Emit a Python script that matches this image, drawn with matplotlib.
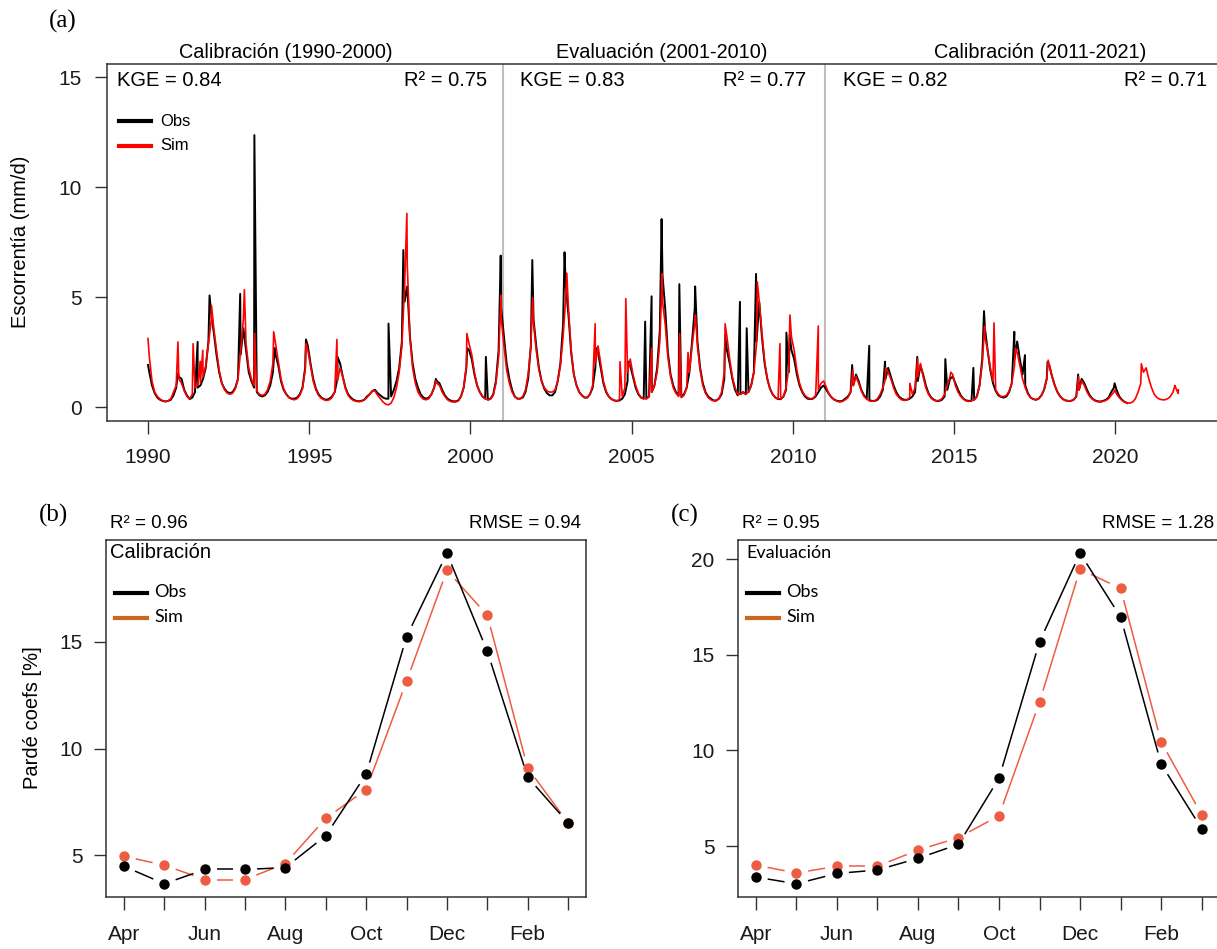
import numpy as np
import matplotlib
matplotlib.use("Agg")
import matplotlib.pyplot as plt
from matplotlib.lines import Line2D

# ---------------------------------------------------------------- data
# (a) daily runoff, read as monthly values (Jan..Dec) plus visible peaks
obs_monthly = [
    1.6, 1.0, 0.65, 0.45, 0.35, 0.3, 0.27, 0.3, 0.35, 0.55, 0.9, 1.4,    # 1990
    1.3, 0.8, 0.55, 0.38, 0.45, 0.7, 0.9, 1.0, 1.3, 1.8, 3.0, 4.3,       # 1991
    3.4, 2.4, 1.6, 1.1, 0.85, 0.7, 0.65, 0.7, 0.9, 1.3, 2.4, 3.6,        # 1992
    2.6, 1.6, 1.2, 0.9, 0.7, 0.55, 0.5, 0.55, 0.7, 1.0, 1.6, 2.4,        # 1993
    1.9, 1.2, 0.8, 0.6, 0.45, 0.4, 0.4, 0.45, 0.6, 0.9, 1.8, 2.8,        # 1994
    2.0, 1.3, 0.85, 0.6, 0.45, 0.38, 0.35, 0.4, 0.5, 0.7, 1.3, 2.0,      # 1995
    1.4, 0.9, 0.6, 0.45, 0.35, 0.3, 0.28, 0.3, 0.35, 0.5, 0.6, 0.75,     # 1996
    0.8, 0.65, 0.55, 0.45, 0.4, 0.4, 0.5, 0.8, 1.2, 1.8, 3.0, 4.8,       # 1997
    5.5, 3.2, 2.0, 1.3, 0.9, 0.6, 0.45, 0.4, 0.45, 0.6, 0.9, 1.2,        # 1998
    1.1, 0.8, 0.55, 0.4, 0.32, 0.28, 0.28, 0.32, 0.5, 0.9, 1.8, 2.6,     # 1999
    2.2, 1.5, 1.0, 0.7, 0.5, 0.4, 0.35, 0.4, 0.6, 1.2, 2.6, 4.5,         # 2000
    3.2, 2.0, 1.3, 0.8, 0.5, 0.4, 0.4, 0.45, 0.7, 1.3, 2.8, 4.0,         # 2001
    2.8, 1.8, 1.2, 0.85, 0.65, 0.55, 0.55, 0.7, 1.2, 2.0, 3.8, 5.5,      # 2002
    4.2, 2.5, 1.5, 1.0, 0.7, 0.55, 0.45, 0.45, 0.6, 0.9, 1.8, 2.5,       # 2003
    1.8, 1.1, 0.7, 0.5, 0.38, 0.32, 0.3, 0.32, 0.4, 0.6, 1.2, 1.9,       # 2004
    1.4, 0.9, 0.6, 0.45, 0.4, 0.4, 0.5, 0.7, 1.0, 1.8, 3.5, 6.0,         # 2005
    4.5, 2.5, 1.5, 1.0, 0.7, 0.55, 0.5, 0.6, 0.9, 1.6, 3.0, 4.5,         # 2006
    3.0, 1.8, 1.1, 0.7, 0.5, 0.4, 0.32, 0.32, 0.4, 0.6, 1.3, 2.6,        # 2007
    2.0, 1.3, 0.8, 0.55, 0.6, 0.7, 0.6, 0.7, 1.0, 1.6, 3.0, 4.8,         # 2008
    3.2, 2.0, 1.3, 0.85, 0.6, 0.45, 0.38, 0.38, 0.5, 0.8, 1.6, 2.6,      # 2009
    2.2, 1.5, 1.0, 0.7, 0.5, 0.4, 0.38, 0.4, 0.5, 0.7, 0.9, 1.0,         # 2010
    0.8, 0.6, 0.45, 0.35, 0.3, 0.28, 0.3, 0.4, 0.5, 0.7, 1.0, 1.5,       # 2011
    1.2, 0.8, 0.55, 0.4, 0.33, 0.3, 0.3, 0.35, 0.5, 0.8, 1.3, 1.8,       # 2012
    1.4, 1.0, 0.7, 0.5, 0.4, 0.35, 0.35, 0.4, 0.5, 0.7, 1.2, 1.9,        # 2013
    1.5, 1.0, 0.65, 0.45, 0.35, 0.3, 0.3, 0.35, 0.5, 0.8, 1.3, 1.4,      # 2014
    1.1, 0.8, 0.55, 0.4, 0.32, 0.3, 0.3, 0.35, 0.5, 1.0, 2.2, 3.6,       # 2015
    2.6, 1.7, 1.1, 0.75, 0.55, 0.48, 0.45, 0.5, 0.7, 1.1, 2.2, 3.0,      # 2016
    2.2, 1.5, 1.0, 0.65, 0.45, 0.38, 0.35, 0.4, 0.55, 0.8, 1.3, 1.9,     # 2017
    1.4, 1.0, 0.7, 0.5, 0.38, 0.32, 0.3, 0.3, 0.35, 0.5, 0.8, 1.3,       # 2018
    1.1, 0.8, 0.55, 0.4, 0.32, 0.28, 0.27, 0.3, 0.35, 0.45, 0.7, 0.9,    # 2019
    0.8, 0.5, 0.35, 0.25, 0.2,                                           # 2020
]
sim_monthly = [
    2.3, 1.2, 0.7, 0.5, 0.38, 0.3, 0.28, 0.3, 0.4, 0.7, 1.0, 1.3,        # 1990
    1.1, 0.75, 0.5, 0.4, 0.6, 0.9, 1.0, 1.1, 1.4, 1.9, 2.9, 3.9,         # 1991
    3.6, 2.6, 1.7, 1.1, 0.8, 0.65, 0.6, 0.65, 0.85, 1.3, 2.6, 4.0,       # 1992
    2.9, 1.8, 1.3, 1.0, 0.75, 0.6, 0.55, 0.6, 0.8, 1.2, 2.0, 2.9,        # 1993
    2.1, 1.3, 0.85, 0.6, 0.45, 0.38, 0.35, 0.4, 0.55, 0.85, 1.7, 2.6,    # 1994
    1.9, 1.2, 0.8, 0.55, 0.42, 0.35, 0.32, 0.35, 0.45, 0.7, 1.2, 1.8,    # 1995
    1.4, 0.85, 0.55, 0.4, 0.32, 0.28, 0.27, 0.28, 0.35, 0.45, 0.6, 0.75, # 1996
    0.75, 0.55, 0.4, 0.25, 0.15, 0.12, 0.2, 0.45, 0.9, 1.6, 2.8, 5.5,    # 1997
    6.5, 3.2, 1.8, 1.1, 0.7, 0.5, 0.38, 0.35, 0.4, 0.6, 0.9, 1.1,        # 1998
    1.0, 0.7, 0.5, 0.35, 0.28, 0.25, 0.25, 0.3, 0.5, 0.9, 1.9, 2.9,      # 1999
    2.4, 1.6, 1.0, 0.7, 0.5, 0.4, 0.35, 0.38, 0.55, 1.1, 2.3, 4.0,       # 2000
    2.8, 1.7, 1.1, 0.7, 0.5, 0.4, 0.4, 0.5, 0.8, 1.5, 2.8, 3.8,          # 2001
    2.6, 1.7, 1.2, 0.9, 0.75, 0.7, 0.7, 0.8, 1.2, 1.9, 3.2, 5.0,         # 2002
    4.5, 2.6, 1.5, 1.0, 0.7, 0.55, 0.45, 0.45, 0.6, 1.0, 2.0, 2.8,       # 2003
    2.0, 1.2, 0.75, 0.5, 0.38, 0.32, 0.3, 0.35, 0.5, 0.9, 1.6, 2.2,      # 2004
    1.5, 1.0, 0.65, 0.45, 0.4, 0.4, 0.5, 0.7, 1.0, 1.6, 3.0, 4.8,        # 2005
    3.8, 2.3, 1.4, 0.9, 0.65, 0.5, 0.45, 0.55, 0.9, 1.6, 2.8, 3.8,       # 2006
    2.8, 1.7, 1.0, 0.65, 0.45, 0.35, 0.3, 0.3, 0.4, 0.7, 1.6, 3.2,       # 2007
    2.2, 1.4, 0.9, 0.6, 0.6, 0.7, 0.6, 0.7, 1.0, 1.6, 2.9, 4.8,          # 2008
    3.4, 2.1, 1.3, 0.85, 0.6, 0.45, 0.38, 0.38, 0.5, 0.9, 1.8, 3.2,      # 2009
    2.6, 1.7, 1.1, 0.75, 0.55, 0.45, 0.4, 0.42, 0.55, 0.8, 1.1, 1.2,     # 2010
    0.9, 0.6, 0.45, 0.35, 0.28, 0.25, 0.28, 0.35, 0.45, 0.7, 1.0, 1.4,   # 2011
    1.1, 0.75, 0.5, 0.38, 0.3, 0.28, 0.3, 0.4, 0.6, 0.9, 1.3, 1.6,       # 2012
    1.3, 0.9, 0.6, 0.45, 0.35, 0.32, 0.35, 0.45, 0.6, 0.9, 1.4, 2.0,     # 2013
    1.4, 0.9, 0.6, 0.42, 0.33, 0.3, 0.32, 0.4, 0.6, 1.0, 1.4, 1.5,       # 2014
    1.0, 0.7, 0.5, 0.38, 0.3, 0.28, 0.3, 0.35, 0.5, 1.0, 2.0, 3.2,       # 2015
    2.6, 1.8, 1.2, 0.8, 0.6, 0.5, 0.5, 0.55, 0.75, 1.1, 1.9, 2.5,        # 2016
    1.9, 1.3, 0.9, 0.6, 0.45, 0.38, 0.35, 0.4, 0.55, 0.8, 1.3, 1.9,      # 2017
    1.4, 1.0, 0.7, 0.5, 0.38, 0.32, 0.3, 0.3, 0.35, 0.5, 0.8, 1.2,       # 2018
    1.0, 0.7, 0.5, 0.38, 0.3, 0.26, 0.25, 0.28, 0.32, 0.4, 0.55, 0.7,    # 2019
    0.6, 0.45, 0.32, 0.25, 0.2, 0.2, 0.25, 0.4, 0.7, 1.1, 1.6, 1.8,      # 2020
    1.3, 0.9, 0.6, 0.45, 0.38, 0.35, 0.35, 0.4, 0.5, 0.7, 0.9, 0.8,      # 2021
]
obs_peak_t = [1990.00, 1990.93, 1991.54, 1991.91, 1992.86, 1993.30, 1993.93,
              1994.90, 1995.88, 1997.46, 1997.92, 1998.93, 1999.90, 2000.48,
              2000.94, 2001.92, 2002.92, 2003.90, 2004.88, 2005.42, 2005.62,
              2005.93, 2006.48, 2006.97, 2007.90, 2008.36, 2008.57, 2008.86,
              2009.80, 2009.90, 2011.84, 2012.37, 2012.86, 2013.86, 2014.73,
              2015.60, 2015.93, 2016.87, 2017.20, 2017.90, 2018.85, 2019.98]
obs_peak_v = [1.93, 1.55, 2.98, 5.09, 5.16, 12.37, 2.7,
              3.09, 2.3, 3.81, 7.15, 1.3, 2.7, 2.3,
              6.9, 6.7, 7.05, 2.7, 2.1, 3.9, 5.05,
              8.56, 5.6, 5.5, 3.3, 4.8, 3.6, 6.07,
              3.4, 3.3, 1.93, 2.8, 2.08, 2.3, 2.2,
              1.8, 4.38, 3.44, 2.38, 2.07, 1.5, 1.1]
sim_peak_t = [1990.00, 1990.93, 1991.40, 1991.62, 1991.70, 1991.97, 1992.99,
              1993.30, 1993.90, 1994.90, 1995.86, 1998.03, 1998.93, 1999.89,
              2000.95, 2001.93, 2002.99, 2003.87, 2004.64, 2004.82, 2005.62,
              2005.95, 2006.49, 2006.75, 2006.98, 2007.90, 2008.90, 2009.60,
              2009.91, 2010.79, 2011.86, 2012.88, 2013.63, 2013.87, 2014.90,
              2015.95, 2016.24, 2016.90, 2017.92, 2018.86, 2019.99, 2020.81,
              2021.85, 2021.95]
sim_peak_v = [3.13, 2.98, 2.9, 2.1, 2.6, 4.64, 5.35,
              3.36, 3.44, 2.9, 3.09, 8.81, 1.2, 3.36,
              5.1, 5.0, 6.1, 3.8, 2.08, 4.94, 2.7,
              6.08, 3.36, 2.5, 4.2, 3.8, 5.7, 2.9,
              4.2, 3.7, 1.7, 1.8, 1.1, 2.2, 1.6,
              3.7, 3.84, 2.7, 2.15, 1.4, 0.8, 1.99,
              1.0, 0.64]
period_lines = [2001, 2011]
period_titles = ["Calibración (1990-2000)", "Evaluación (2001-2010)", "Calibración (2011-2021)"]
kge_labels = ["KGE = 0.84", "KGE = 0.83", "KGE = 0.82"]
r2_labels = ["R² = 0.75", "R² = 0.77", "R² = 0.71"]
year_ticks = [1990, 1995, 2000, 2005, 2010, 2015, 2020]

# (b), (c) Pardé coefficients
months = ["Apr", "May", "Jun", "Jul", "Aug", "Sep", "Oct", "Nov", "Dec", "Jan", "Feb", "Mar"]
cal_obs = [4.48, 3.66, 4.33, 4.33, 4.42, 5.92, 8.80, 15.25, 19.16, 14.56, 8.66, 6.52]
cal_sim = [4.95, 4.53, 3.86, 3.86, 4.61, 6.73, 8.08, 13.16, 18.36, 16.25, 9.09, 6.52]
eva_obs = [3.38, 3.03, 3.57, 3.75, 4.36, 5.09, 8.55, 15.68, 20.31, 16.97, 9.29, 5.91]
eva_sim = [4.01, 3.59, 3.95, 3.95, 4.79, 5.44, 6.59, 12.53, 19.48, 18.47, 10.45, 6.64]

# ---------------------------------------------------------------- figure
W, H = 1217, 949
plt.rcParams["font.family"] = ["Liberation Sans", "DejaVu Sans"]
fig = plt.figure(figsize=(W / 100, H / 100), dpi=100)

def fx(px):
    return px / W

def fy(py):
    return 1 - py / H

def axes_px(l, t, r, b):
    return fig.add_axes([l / W, 1 - b / H, (r - l) / W, (b - t) / H])

SPINE = "#333333"

def style(ax, fs):
    for s in ax.spines.values():
        s.set_color(SPINE)
        s.set_linewidth(1.1)
    ax.tick_params(direction="out", length=9, width=1.0, color=SPINE,
                   labelsize=fs, labelcolor="#1a1a1a")

# ---------------------------------------------------------------- (a)
axa = axes_px(106.7, 64, 1221, 420.7)
style(axa, 15)
axa.tick_params(axis="y", pad=9)
axa.tick_params(axis="x", pad=11)

def series(monthly, pt, pv):
    t = 1990 + (np.arange(len(monthly)) + 0.5) / 12.0
    tt = np.concatenate([t, pt])
    vv = np.concatenate([monthly, pv])
    o = np.argsort(tt, kind="stable")
    return tt[o], vv[o]

to, vo = series(obs_monthly, obs_peak_t, obs_peak_v)
ts, vs = series(sim_monthly, sim_peak_t, sim_peak_v)
axa.plot(to, vo, color="black", lw=1.4)
axa.plot(ts, vs, color="#FF0000", lw=1.2)
for x in period_lines:
    axa.axvline(x, color="#BEBEBE", lw=1.5, zorder=0)

t0, t1 = 1990.0, 2022.0
pad = 0.04 * (t1 - t0)
axa.set_xlim(t0 - pad, t1 + pad)
axa.set_ylim(-0.6, 15.6)
axa.set_xticks(year_ticks)
axa.set_yticks([0, 5, 10, 15])

# texts of (a)
fig.text(fx(63), fy(21), "(a)", family=["Liberation Serif"], fontsize=18,
         ha="center", va="center")
for xc, s in zip([286, 662, 1040], period_titles):
    fig.text(fx(xc), fy(52), s, fontsize=14.3, ha="center", va="center")
for xl, s in zip([117, 520, 843], kge_labels):
    fig.text(fx(xl), fy(80), s, fontsize=14.5, ha="left", va="center")
for xr, s in zip([487, 806, 1207], r2_labels):
    fig.text(fx(xr), fy(80), s, fontsize=14.5, ha="right", va="center")
fig.text(fx(21), fy(242), "Escorrentía (mm/d)", fontsize=14.5, rotation=90,
         ha="center", va="center")
fig.add_artist(Line2D([fx(119), fx(151)], [fy(121), fy(121)], color="black", lw=3))
fig.add_artist(Line2D([fx(119), fx(151)], [fy(145.5), fy(145.5)], color="#FF0000", lw=3))
fig.text(fx(160), fy(121), "Obs", fontsize=12, ha="left", va="center")
fig.text(fx(160), fy(145.5), "Sim", fontsize=12, ha="left", va="center")

# ---------------------------------------------------------------- (b), (c)
SIMC = "#EE5C42"
SIMLEG = "#CD661D"

def gapped(ax, x, y, color, gap=12, lw=1.1):
    pts = ax.transData.transform(np.column_stack([x, y]))
    inv = ax.transData.inverted()
    for (x0, y0), (x1, y1) in zip(pts[:-1], pts[1:]):
        d = np.hypot(x1 - x0, y1 - y0)
        if d <= 2 * gap:
            continue
        ux, uy = (x1 - x0) / d, (y1 - y0) / d
        a = inv.transform((x0 + ux * gap, y0 + uy * gap))
        b = inv.transform((x1 - ux * gap, y1 - uy * gap))
        ax.plot([a[0], b[0]], [a[1], b[1]], color=color, lw=lw,
                solid_capstyle="butt")

def parde(ax, obs, sim, yticks):
    style(ax, 15)
    ax.tick_params(axis="y", pad=8)
    ax.tick_params(axis="x", pad=11)
    x = np.arange(1, 13)
    lo = min(min(obs), min(sim))
    hi = max(max(obs), max(sim))
    ax.set_xlim(1 - 0.44, 12 + 0.44)
    ax.set_ylim(lo - 0.04 * (hi - lo), hi + 0.04 * (hi - lo))
    gapped(ax, x, sim, SIMC)
    ax.plot(x, sim, "o", color=SIMC, ms=7.5, mec="none")
    gapped(ax, x, obs, "black")
    ax.plot(x, obs, "o", color="black", ms=7.5, mec="none")
    ax.set_xticks(x)
    ax.set_xticklabels([m if i % 2 == 0 else "" for i, m in enumerate(months)])
    ax.set_yticks(yticks)

axb = axes_px(106.2, 540, 585.8, 897)
parde(axb, cal_obs, cal_sim, [5, 10, 15])
axc = axes_px(738, 540, 1219.5, 897)
parde(axc, eva_obs, eva_sim, [5, 10, 15, 20])

fig.text(fx(32), fy(718), "Pardé coefs [%]", fontsize=14.5, rotation=90,
         ha="center", va="center")

for (l, r, lab, r2, rmse, name, namefont) in [
        (106.2, 585.8, "(b)", "R² = 0.96", "RMSE = 0.94", "Calibración", None),
        (738, 1219.5, "(c)", "R² = 0.95", "RMSE = 1.28", "Evaluación", "Lato")]:
    fig.text(fx(l - 53), fy(515), lab, family=["Liberation Serif"], fontsize=18,
             ha="center", va="center")
    fig.text(fx(l + 4), fy(523), r2, fontsize=13.5, ha="left", va="center")
    fig.text(fx(r - 5), fy(523), rmse, fontsize=13.5, ha="right", va="center")
    if namefont:
        fig.text(fx(l + 8), fy(553), name, family=[namefont, "DejaVu Sans"],
                 fontsize=13, ha="left", va="center")
    else:
        fig.text(fx(l + 4), fy(553), name, fontsize=14.5, ha="left", va="center")
    fig.add_artist(Line2D([fx(l + 9), fx(l + 41)], [fy(593), fy(593)],
                          color="black", lw=3))
    fig.add_artist(Line2D([fx(l + 9), fx(l + 41)], [fy(618), fy(618)],
                          color=SIMLEG, lw=3))
    fig.text(fx(l + 48), fy(592), "Obs", family=["Lato", "DejaVu Sans"],
             fontsize=13, ha="left", va="center")
    fig.text(fx(l + 48), fy(617), "Sim", family=["Lato", "DejaVu Sans"],
             fontsize=13, ha="left", va="center")

fig.savefig("out.png", dpi=100)
